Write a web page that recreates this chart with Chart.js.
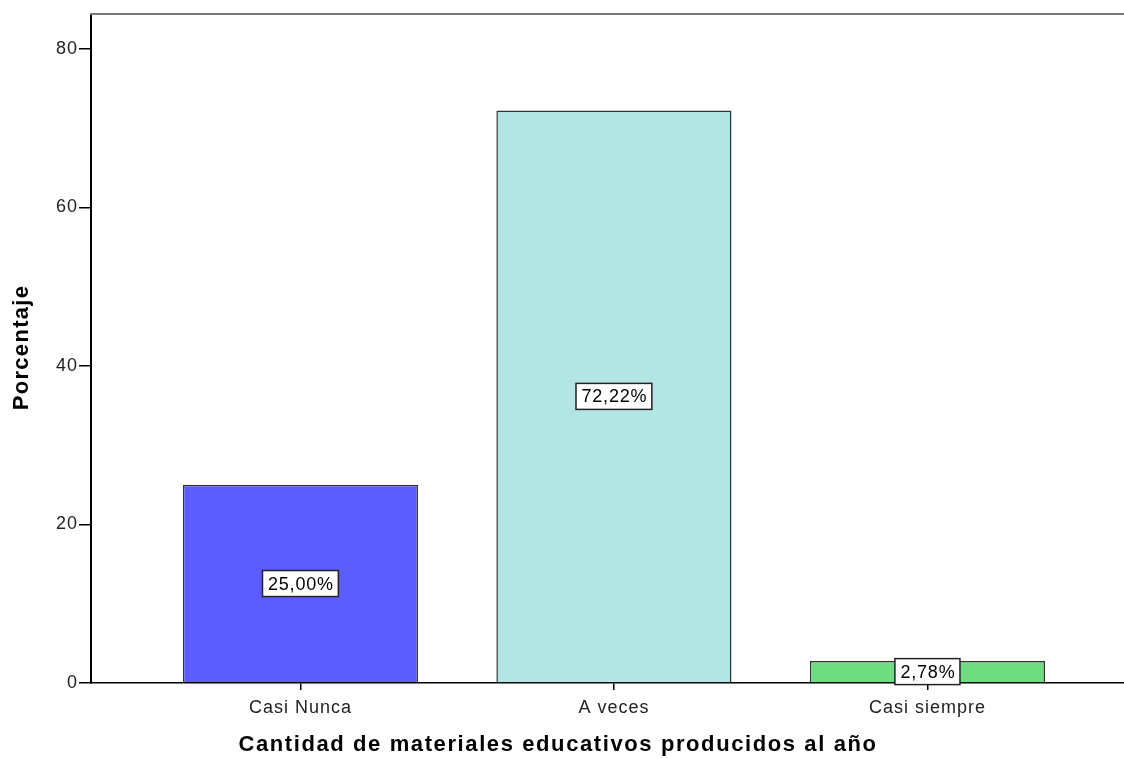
<!DOCTYPE html>
<html>
<head>
<meta charset="utf-8">
<script src="https://cdn.jsdelivr.net/npm/chart.js@4/dist/chart.umd.min.js"></script>
<style>
	html, body { margin: 0; padding: 0; background: #fff; }
	#wrap { width: 1124px; height: 758px; }
</style>
</head>
<body>
<div id="wrap"><canvas id="chart" width="1124" height="758"></canvas></div>
<script>
var categories = ['Casi Nunca', 'A veces', 'Casi siempre'];
var percentages = [25.00, 72.22, 2.78];
var barColors = ['#5c5cff', '#b3e5e5', '#6fdc82'];
var yTicks = [0, 20, 40, 60, 80];
var xTitle = 'Cantidad de materiales educativos producidos al año';
var yTitle = 'Porcentaje';

var FONT = '"Liberation Sans", Arial, sans-serif';

// slightly spaced text like the SPSS export, titles and value boxes drawn here
var spssLook = {
	id: 'spssLook',
	beforeDraw: function (chart) {
		chart.ctx.letterSpacing = '1px';
	},
	afterDatasetsDraw: function (chart) {
		var ctx = chart.ctx;
		var meta = chart.getDatasetMeta(0);
		ctx.save();
		ctx.letterSpacing = '0.8px';
		ctx.font = '18px ' + FONT;
		ctx.textAlign = 'center';
		ctx.textBaseline = 'middle';
		meta.data.forEach(function (bar, i) {
			var text = percentages[i].toFixed(2).replace('.', ',') + '%';
			var w = ctx.measureText(text).width + 10;
			var h = 26;
			var cy = (bar.y + bar.base) / 2;
			ctx.fillStyle = '#fff';
			ctx.fillRect(bar.x - w / 2, cy - h / 2, w, h);
			ctx.strokeStyle = '#222';
			ctx.lineWidth = 1.5;
			ctx.strokeRect(bar.x - w / 2, cy - h / 2, w, h);
			ctx.fillStyle = '#000';
			ctx.fillText(text, bar.x + 0.5, cy + 1);
		});
		ctx.restore();
	},
	afterDraw: function (chart) {
		var ctx = chart.ctx, area = chart.chartArea;
		ctx.save();
		ctx.strokeStyle = '#7a7a7a';
		ctx.lineWidth = 2;
		ctx.beginPath();
		ctx.moveTo(area.left - 1, area.top);
		ctx.lineTo(chart.width, area.top);
		ctx.stroke();

		ctx.fillStyle = '#000';
		ctx.textAlign = 'center';
		ctx.textBaseline = 'middle';
		ctx.font = 'bold 22px ' + FONT;
		ctx.letterSpacing = '1.6px';
		ctx.fillText(xTitle, 558, 744.5);
		ctx.letterSpacing = '1.3px';
		ctx.translate(21.5, (area.top + area.bottom) / 2);
		ctx.rotate(-Math.PI / 2);
		ctx.fillText(yTitle, 1, 0);
		ctx.restore();
	}
};

new Chart(document.getElementById('chart'), {
	type: 'bar',
	data: {
		datasets: [{
			data: percentages.map(function (v, i) { return { x: i, y: v }; }),
			backgroundColor: barColors,
			borderColor: '#333',
			borderWidth: 1.5,
			categoryPercentage: 0.75,
			barPercentage: 1
		}]
	},
	options: {
		responsive: false,
		animation: false,
		layout: { padding: { top: 14, left: 0, right: 0, bottom: 0 } },
		plugins: { legend: { display: false }, tooltip: { enabled: false } },
		scales: {
			x: {
				type: 'linear',
				offset: false,
				min: -0.668,
				max: 2.627,
				afterBuildTicks: function (scale) {
					scale.ticks = categories.map(function (c, i) { return { value: i }; });
				},
				afterFit: function (scale) { scale.height = 75; },
				grid: { offset: false, drawOnChartArea: false, tickLength: 7, color: '#000', lineWidth: 1.5 },
				border: { color: '#000', width: 1.5 },
				ticks: {
					autoSkip: false,
					maxRotation: 0,
					padding: 7,
					color: '#222',
					font: { family: FONT, size: 18 },
					callback: function (v) { return categories[v]; }
				}
			},
			y: {
				min: 0,
				max: 84.4,
				afterBuildTicks: function (scale) {
					scale.ticks = yTicks.map(function (t) { return { value: t }; });
				},
				afterFit: function (scale) { scale.width = 91; },
				grid: { drawOnChartArea: false, tickLength: 12, color: '#000', lineWidth: 1.5 },
				border: { color: '#000', width: 2 },
				ticks: {
					padding: 1,
					color: '#222',
					font: { family: FONT, size: 18 }
				}
			}
		}
	},
	plugins: [spssLook]
});
</script>
</body>
</html>
